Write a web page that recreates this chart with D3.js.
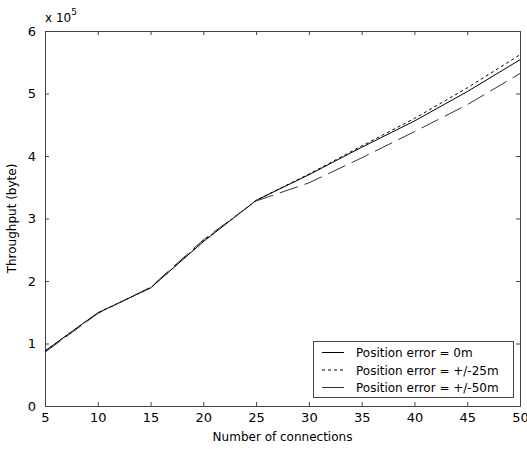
<!DOCTYPE html>
<html>
<head>
<meta charset="utf-8">
<script src="https://cdn.jsdelivr.net/npm/d3@7"></script>
<style>
body{margin:0;background:#fff;}
text{font-family:"DejaVu Sans",sans-serif;fill:#000;}
</style>
</head>
<body>
<svg id="chart" width="527" height="449"></svg>
<script>
// number of connections
var connections = [5,10,15,20,25,30,35,40,45,50];
// throughput in units of 10^5 byte
var err0  = [0.88,1.49,1.89,2.63,3.29,3.70,4.14,4.56,5.03,5.54];
var err25 = [0.88,1.49,1.89,2.64,3.29,3.71,4.16,4.60,5.09,5.62];
var err50 = [0.86,1.48,1.90,2.66,3.28,3.57,3.97,4.39,4.82,5.32];
var xTicks = [5,10,15,20,25,30,35,40,45,50];
var yTicks = [0,1,2,3,4,5,6];
var legendLabels = ["Position error = 0m","Position error = +/-25m","Position error = +/-50m"];

var svg = d3.select("#chart");
// plot box (note: "top" is taken by window, so use own names)
var pLeft = 45, pRight = 520, pTop = 31, pBottom = 406;

var x = d3.scaleLinear().domain([5,50]).range([pLeft,pRight]);
var y = d3.scaleLinear().domain([0,6]).range([pBottom,pTop]);

var axisColor = "#444";

// box + ticks (matlab style, ticks inside on all sides)
function styleAxis(g){
	g.select(".domain").attr("stroke",axisColor);
	g.selectAll(".tick line").attr("stroke",axisColor);
	g.selectAll("text").attr("font-size","13px").style("font-family","DejaVu Sans, sans-serif");
}

var gx = svg.append("g").attr("transform","translate(0,"+pBottom+")")
	.call(d3.axisBottom(x).tickValues(xTicks).tickSizeInner(-4).tickSizeOuter(0).tickPadding(7));
styleAxis(gx);

var gxTop = svg.append("g").attr("transform","translate(0,"+pTop+")")
	.call(d3.axisTop(x).tickValues(xTicks).tickSizeInner(-4).tickSizeOuter(0).tickFormat(""));
styleAxis(gxTop);

var gy = svg.append("g").attr("transform","translate("+pLeft+",0)")
	.call(d3.axisLeft(y).tickValues(yTicks).tickFormat(d3.format("d")).tickSizeInner(-4).tickSizeOuter(0).tickPadding(9));
styleAxis(gy);

var gyRight = svg.append("g").attr("transform","translate("+pRight+",0)")
	.call(d3.axisRight(y).tickValues(yTicks).tickSizeInner(-4).tickSizeOuter(0).tickFormat(""));
styleAxis(gyRight);

// exponent label
var expo = svg.append("text").attr("x",pLeft).attr("y",22).attr("font-size","12px");
expo.append("tspan").text("x 10");
expo.append("tspan").attr("dy",-7).attr("font-size","9px").text("5");

// axis titles
svg.append("text").attr("x",(pLeft+pRight)/2).attr("y",441).attr("text-anchor","middle")
	.attr("font-size","12px").text("Number of connections");
svg.append("text").attr("transform","translate(16,"+((pTop+pBottom)/2)+") rotate(-90)")
	.attr("text-anchor","middle").attr("font-size","12px").text("Throughput (byte)");

// series
var series = [
	{vals:err0, color:"#000", dash:null, legendDash:null},
	{vals:err25, color:"#000", dash:"3,3", legendDash:"3,3"},
	{vals:err50, color:"#333", dash:"19,7", legendDash:null}
];

var line = d3.line().x(function(d){return x(d[0]);}).y(function(d){return y(d[1]);});

series.forEach(function(s){
	var pts = connections.map(function(c,i){return [c,s.vals[i]];});
	svg.append("path").datum(pts).attr("d",line)
		.attr("fill","none").attr("stroke",s.color).attr("stroke-width",1)
		.attr("stroke-dasharray",s.dash);
});

// legend
var lg = svg.append("g");
lg.append("rect").attr("x",313.5).attr("y",341.5).attr("width",200).attr("height",56)
	.attr("fill","#fff").attr("stroke",axisColor);
legendLabels.forEach(function(lab,i){
	var yy = 352.5 + i*17.5;
	lg.append("line").attr("x1",322).attr("x2",344).attr("y1",yy).attr("y2",yy)
		.attr("stroke",series[i].color).attr("stroke-dasharray",series[i].legendDash);
	lg.append("text").attr("x",356).attr("y",yy+4.5).attr("font-size","12px").text(lab);
});
</script>
</body>
</html>
